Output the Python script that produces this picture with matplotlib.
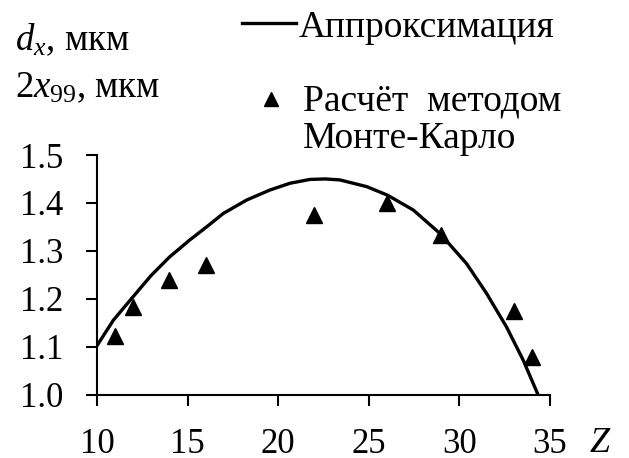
import matplotlib
matplotlib.use("Agg")
import matplotlib.pyplot as plt
from matplotlib.lines import Line2D

plt.rcParams["font.family"] = ["Liberation Serif", "DejaVu Serif"]
plt.rcParams["mathtext.fontset"] = "custom"
plt.rcParams["mathtext.rm"] = "Liberation Serif"
plt.rcParams["mathtext.it"] = "Liberation Serif:italic"

# Approximation curve (sampled)
approx_z = [10.0, 10.9, 11.9, 13.0, 14.0, 15.1, 16.05, 16.97, 18.26, 19.55,
            20.65, 21.75, 22.6, 23.4, 24.88, 26.04, 27.46, 28.93, 30.4,
            31.5, 32.6, 33.53, 34.3]
approx_d = [1.102, 1.155, 1.200, 1.249, 1.287, 1.322, 1.350, 1.378, 1.406,
            1.427, 1.441, 1.449, 1.450, 1.448, 1.434, 1.416, 1.385, 1.336,
            1.273, 1.211, 1.141, 1.071, 1.003]

# Monte Carlo results
mc_z = [11, 12, 14, 16, 22, 26, 29, 33, 34]
mc_d = [1.123, 1.183, 1.238, 1.271, 1.374, 1.399, 1.333, 1.174, 1.078]

x_ticks = [10, 15, 20, 25, 30, 35]
y_ticks = [1.0, 1.1, 1.2, 1.3, 1.4, 1.5]

W, H = 629, 458
fig = plt.figure(figsize=(W / 100, H / 100), dpi=100)


def fx(px):
    return px / W


def fy(py):
    return 1 - py / H


ax = fig.add_axes([fx(97), fy(394.5), fx(550) - fx(97), fy(155) - fy(394.5)])
ax.plot(approx_z, approx_d, color="black", lw=2.4, solid_joinstyle="round")
ax.plot(mc_z, mc_d, ls="none", marker="^", ms=11, color="black")

ax.set_xlim(10, 35)
ax.set_ylim(1.0, 1.5)
ax.set_xticks(x_ticks)
ax.set_xticklabels([str(t) for t in x_ticks])
ax.set_yticks(y_ticks)
ax.set_yticklabels([f"{t:.1f}" for t in y_ticks])
for s in ("top", "right"):
    ax.spines[s].set_visible(False)
for s in ("left", "bottom"):
    ax.spines[s].set_linewidth(1.5)
ax.tick_params(direction="out", length=8, width=1.5, labelsize=25, pad=16)

fs = 27
fig.text(fx(15), fy(50), r"$d_x$, мкм", fontsize=26.5, va="baseline", ha="left")
fig.text(fx(15), fy(97), r"$2x_{99}$, мкм", fontsize=26.5, va="baseline", ha="left")
fig.text(fx(589), fy(452), r"$Z$", fontsize=26, va="baseline", ha="left")

# Legend
fig.add_artist(Line2D([fx(242), fx(296)], [fy(23), fy(23)], color="black",
                      lw=2.4, transform=fig.transFigure))
fig.text(fx(299), fy(37), "Аппроксимация", fontsize=fs, va="baseline", ha="left")
fig.add_artist(Line2D([fx(271)], [fy(99)], ls="none", marker="^", ms=10,
                      color="black", transform=fig.transFigure))
fig.text(fx(303), fy(110), "Расчёт  методом", fontsize=fs, va="baseline", ha="left")
fig.text(fx(303), fy(148), "Монте-Карло", fontsize=fs, va="baseline", ha="left")

fig.savefig("out.png", dpi=100)
